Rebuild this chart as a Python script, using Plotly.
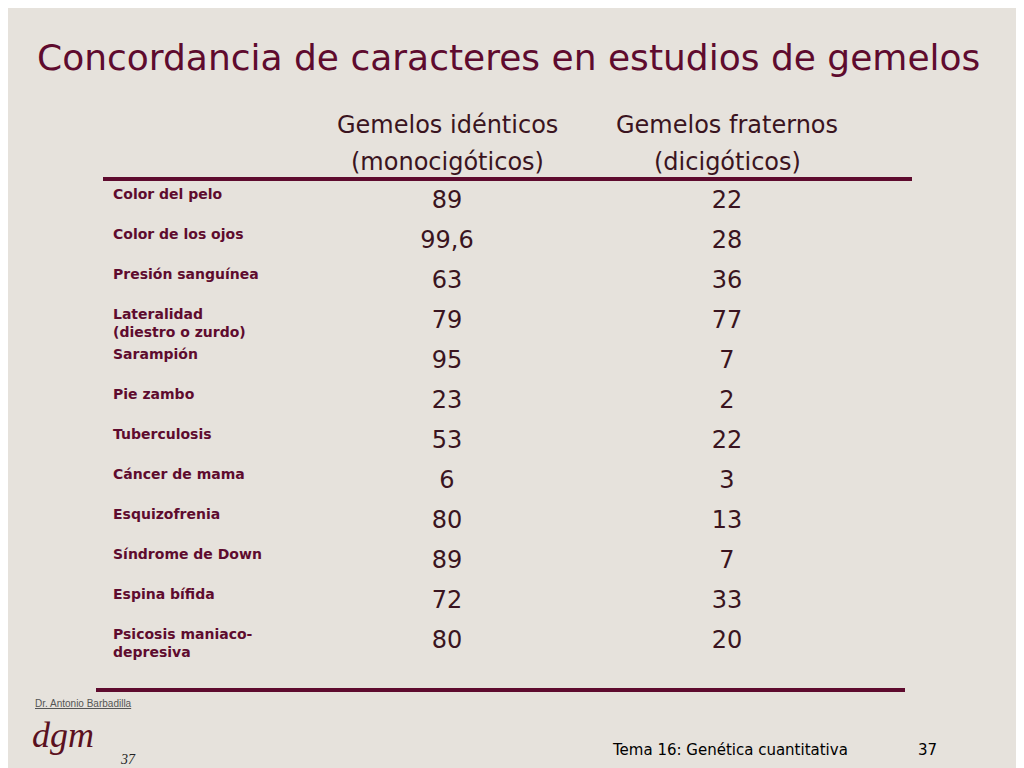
import plotly.graph_objects as go

traits = ["Color del pelo", "Color de los ojos", "Presión sanguínea",
          "Lateralidad<br>(diestro o zurdo)", "Sarampión", "Pie zambo",
          "Tuberculosis", "Cáncer de mama", "Esquizofrenia",
          "Síndrome de Down", "Espina bífida", "Psicosis maniaco-<br>depresiva"]
identicos = ["89", "99,6", "63", "79", "95", "23", "53", "6", "80", "89", "72", "80"]
fraternos = ["22", "28", "36", "77", "7", "2", "22", "3", "13", "7", "33", "20"]
headers = [("Gemelos idénticos", "(monocigóticos)"), ("Gemelos fraternos", "(dicigóticos)")]

maroon = "#5e0b2e"
OFF = 8  # page offset in the browser


def py(p):
    return 1 - (p - OFF) / 768


rows = list(range(len(traits)))

fig = go.Figure()
for xc, vals in zip([447 - OFF, 727 - OFF], [identicos, fraternos]):
    fig.add_trace(go.Scatter(x=[xc] * len(rows), y=rows, text=vals, mode="text",
                             textfont=dict(size=24, color="#3a1420", family="DejaVu Sans"),
                             hoverinfo="skip"))

for i, t in enumerate(traits):
    fig.add_annotation(x=111 - OFF, y=i - 0.45, text="<b>" + t.replace("<br>", "</b><br><b>") + "</b>",
                       showarrow=False, xanchor="left", yanchor="top", align="left",
                       font=dict(size=14, color=maroon, family="DejaVu Sans"))

for xc, (h1, h2) in zip([447 - OFF, 727 - OFF], headers):
    for yp, h in [(125, h1), (162, h2)]:
        fig.add_annotation(x=xc, y=py(yp), yref="paper", text=h, showarrow=False, xanchor="center",
                           yanchor="middle", font=dict(size=24, color="#3a1420", family="DejaVu Sans"))

fig.add_annotation(x=35 - OFF, y=py(57), yref="paper",
                   text="Concordancia de caracteres en estudios de gemelos",
                   showarrow=False, xanchor="left", yanchor="middle",
                   font=dict(size=36, color=maroon, family="DejaVu Sans"))
fig.add_annotation(x=610 - OFF, y=py(750), yref="paper", yanchor="middle", text="Tema 16: Genética cuantitativa",
                   showarrow=False, xanchor="left", font=dict(size=15, color="black", family="DejaVu Sans"))
fig.add_annotation(x=916 - OFF, y=py(750), yref="paper", yanchor="middle", text="37",
                   showarrow=False, xanchor="left", font=dict(size=15, color="black", family="DejaVu Sans"))
fig.add_annotation(x=33 - OFF, y=py(703), yref="paper", yanchor="middle", text="<u>Dr. Antonio Barbadilla</u>",
                   showarrow=False, xanchor="left", font=dict(size=10, color="#555555", family="Liberation Sans"))
fig.add_annotation(x=30 - OFF, y=py(735), yref="paper", yanchor="middle", text="<i>dgm</i>",
                   showarrow=False, xanchor="left", font=dict(size=36, color="#5a1020", family="Liberation Serif"))
fig.add_annotation(x=118 - OFF, y=py(759), yref="paper", yanchor="middle", text="<i>37</i>",
                   showarrow=False, xanchor="left", font=dict(size=14, color="#222222", family="Liberation Serif"))

fig.add_shape(type="line", x0=103 - OFF, x1=912 - OFF, y0=py(179), y1=py(179),
              yref="paper", line=dict(color=maroon, width=4))
fig.add_shape(type="line", x0=96 - OFF, x1=905 - OFF, y0=py(690), y1=py(690),
              yref="paper", line=dict(color=maroon, width=4))

fig.update_layout(
    width=1024, height=768, margin=dict(l=0, r=0, t=0, b=0),
    paper_bgcolor="#e6e2dc", plot_bgcolor="#e6e2dc", showlegend=False,
    xaxis=dict(range=[0, 1024], visible=False, fixedrange=True),
    yaxis=dict(range=[(768 + OFF - 202) / 40, -(202 - OFF) / 40], visible=False, fixedrange=True),
)
fig.write_html("out.html")
